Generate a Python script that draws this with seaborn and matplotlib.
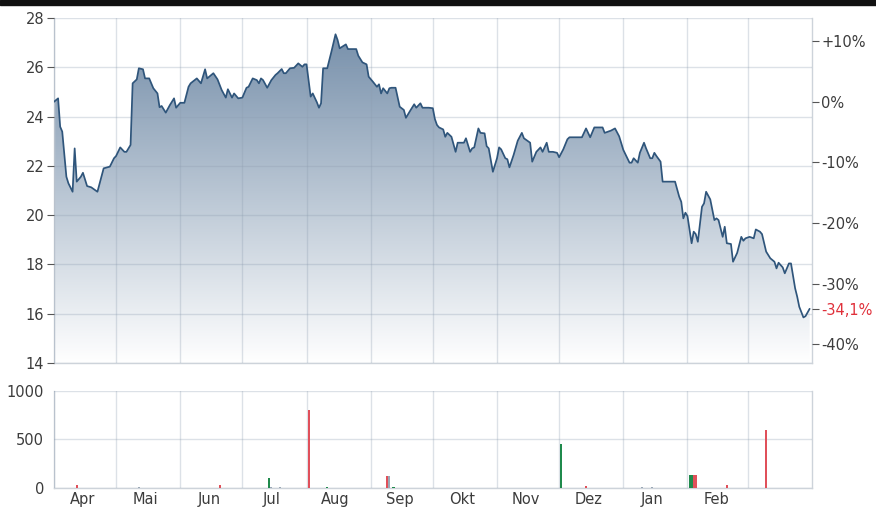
import numpy as np
import pandas as pd
import seaborn as sns
import matplotlib.pyplot as plt
import matplotlib.dates as mdates
from matplotlib.colors import LinearSegmentedColormap
from matplotlib.patches import Rectangle

# data (day offsets from 1 Apr 2023)
start = pd.Timestamp("2023-04-01")
price_days = [0, 2, 3, 4, 6, 7, 9, 10, 11, 13, 14, 16, 18, 21, 24, 27, 29, 30, 32, 34,
              35, 37, 38, 40, 41, 43, 44, 46, 48, 50, 51, 52, 54, 56, 58, 59, 61, 63, 65, 66,
              69, 71, 73, 74, 77, 79, 81, 83, 84, 86, 87, 89, 91, 93, 94, 96, 98, 99, 100, 101,
              103, 105, 107, 108, 110, 111, 112, 114, 116, 118, 120, 121, 122, 124, 125, 127, 128, 129, 130, 132,
              134, 136, 137, 138, 140, 141, 142, 144, 146, 147, 149, 151, 152, 154, 156, 157, 158, 159, 161, 162,
              163, 165, 167, 169, 170, 172, 174, 175, 177, 178, 181, 183, 184, 185, 186, 188, 189, 190, 192, 194,
              195, 198, 199, 201, 202, 203, 205, 206, 208, 209, 210, 212, 214, 215, 216, 218, 219, 220, 222, 224,
              226, 227, 230, 231, 233, 235, 236, 238, 239, 241, 243, 244, 246, 248, 249, 252, 255, 257, 258, 259,
              261, 263, 265, 266, 269, 271, 273, 275, 278, 279, 280, 282, 283, 285, 286, 288, 289, 290, 291, 293,
              294, 297, 300, 302, 303, 304, 305, 306, 308, 309, 310, 311, 313, 314, 315, 317, 319, 320, 321, 323,
              324, 325, 327, 328, 330, 332, 333, 334, 336, 338, 339, 341, 342, 344, 346, 348, 349, 350, 352, 353,
              355, 356, 358, 359, 360, 362, 363, 365]
price_values = [24.6, 24.74, 23.59, 23.39, 21.56, 21.29, 20.95, 22.71, 21.36, 21.56, 21.72, 21.18, 21.13, 20.95, 21.9, 21.97, 22.31, 22.4, 22.75, 22.57,
                22.57, 22.85, 25.35, 25.51, 25.96, 25.92, 25.55, 25.55, 25.15, 24.94, 24.38, 24.43, 24.16, 24.47, 24.74, 24.36, 24.56, 24.56, 25.21, 25.35,
                25.55, 25.35, 25.92, 25.55, 25.76, 25.51, 25.08, 24.77, 25.11, 24.77, 24.94, 24.74, 24.77, 25.17, 25.21, 25.55, 25.48, 25.35, 25.55, 25.48,
                25.17, 25.48, 25.69, 25.76, 25.93, 25.76, 25.76, 25.96, 25.98, 26.16, 26.02, 26.12, 26.12, 24.81, 24.94, 24.58, 24.36, 24.54, 25.96, 25.96,
                26.63, 27.34, 27.11, 26.77, 26.88, 26.93, 26.74, 26.74, 26.74, 26.47, 26.2, 26.12, 25.62, 25.42, 25.21, 25.31, 24.94, 25.15, 24.94, 25.15,
                25.17, 25.17, 24.4, 24.27, 23.95, 24.23, 24.5, 24.36, 24.54, 24.36, 24.36, 24.34, 23.9, 23.66, 23.56, 23.48, 23.18, 23.34, 23.18, 22.57,
                22.94, 22.94, 23.12, 22.57, 22.71, 22.75, 23.52, 23.34, 23.32, 22.8, 22.71, 21.76, 22.31, 22.75, 22.67, 22.31, 22.27, 21.94, 22.44, 23.02,
                23.34, 23.12, 22.94, 22.17, 22.57, 22.75, 22.57, 22.94, 22.57, 22.57, 22.53, 22.35, 22.67, 23.08, 23.16, 23.16, 23.16, 23.52, 23.34, 23.16,
                23.56, 23.56, 23.56, 23.34, 23.43, 23.52, 23.2, 22.65, 22.13, 22.13, 22.31, 22.13, 22.53, 22.94, 22.71, 22.31, 22.31, 22.53, 22.4, 22.17,
                21.36, 21.36, 21.36, 20.75, 20.54, 19.87, 20.1, 19.96, 18.86, 19.33, 19.23, 18.92, 20.34, 20.48, 20.95, 20.64, 19.8, 19.87, 19.8, 19.12,
                19.53, 18.86, 18.83, 18.11, 18.47, 19.12, 18.96, 19.06, 19.12, 19.06, 19.42, 19.33, 19.23, 18.52, 18.25, 18.11, 17.84, 18.07, 17.88, 17.64,
                18.04, 18.04, 17.03, 16.69, 16.28, 15.85, 15.9, 16.2]

vol_days = [11, 41, 80, 104, 105, 109, 123, 132, 161, 162, 164, 245, 257, 284, 289, 307, 308, 309, 310, 325, 344]
vol_values = [30, 6, 28, 100, 10, 10, 800, 15, 120, 120, 15, 450, 20, 10, 10, 135, 135, 135, 135, 30, 600]
vol_kind = ["down", "flat", "down", "up", "flat", "flat", "down", "up", "down", "flat", "up",
            "up", "down", "flat", "flat", "up", "up", "down", "down", "down", "down"]

month_labels = ["Apr", "Mai", "Jun", "Jul", "Aug", "Sep", "Okt", "Nov", "Dez", "Jan", "Feb", ""]
price_ticks = [14, 16, 18, 20, 22, 24, 26, 28]
pct_ticks = [10, 0, -10, -20, -30, -40]
base_price = 24.6

line_col = "#2f557b"
text_col = "#3c3c3c"
kind_col = {"up": "#1f8a4c", "down": "#e0505a", "flat": "#9aa8b6"}

sns.set_style("white")
plt.rcParams["font.family"] = ["DejaVu Sans"]
plt.rcParams["font.size"] = 10

dates = start + pd.to_timedelta(price_days, unit="D")
vdates = start + pd.to_timedelta(vol_days, unit="D")
df = pd.DataFrame({"date": dates, "price": price_values})

fig = plt.figure(figsize=(8.76, 5.12), dpi=100)
fig.patches.append(Rectangle((0, 0.99), 1, 0.01, transform=fig.transFigure, color="#111111"))
ax = fig.add_axes([0.0616, 0.291, 0.865, 0.6738])
axv = fig.add_axes([0.0616, 0.0469, 0.865, 0.1895])

x0 = mdates.date2num(pd.Timestamp("2023-04-01"))
x1 = mdates.date2num(pd.Timestamp("2024-04-01"))
month_starts = pd.date_range("2023-04-01", "2024-03-01", freq="MS")
mids = month_starts + pd.Timedelta(days=14)

# gradient fill under the price line
poly = ax.fill_between(mdates.date2num(dates), price_values, 14, color="none", lw=0)
cmap = LinearSegmentedColormap.from_list("fade", ["#ffffff", "#718ba7"])
grad = np.linspace(0, 1, 256).reshape(-1, 1)
im = ax.imshow(grad, cmap=cmap, aspect="auto", extent=[x0, x1, 14, 28], origin="lower", zorder=1)
im.set_clip_path(poly.get_paths()[0], transform=ax.transData)

sns.lineplot(data=df, x="date", y="price", ax=ax, color=line_col, linewidth=1.25, zorder=4)

for a in (ax, axv):
    a.set_xlim(x0, x1)
    a.set_xticks(mdates.date2num(month_starts))
    a.set_xticklabels([])
    a.grid(True, which="major", color="#8d9db0", alpha=0.3, lw=1, zorder=3)
    a.set_axisbelow(False)
    a.tick_params(axis="x", which="major", length=0)
    for s in ["left", "bottom", "right"]:
        a.spines[s].set_color("#cdd3da")
        a.spines[s].set_linewidth(1)
    a.spines["top"].set_visible(False)
    a.set_xlabel("")
    a.set_ylabel("")

ax.set_ylim(14, 28)
ax.set_yticks(price_ticks)
ax.tick_params(axis="y", length=5, color="#555555", labelcolor=text_col, labelsize=10.5, pad=2)

# percent axis on the right
ax2 = ax.twinx()
ax2.set_ylim((14 / base_price - 1) * 100, (28 / base_price - 1) * 100)
last_pct = (price_values[-1] / base_price - 1) * 100
ax2.set_yticks(pct_ticks + [last_pct])
labels = [("+%d%%" % t if t > 0 else "%d%%" % t) for t in pct_ticks]
labels.append(("%.1f%%" % last_pct).replace(".", ","))
ax2.set_yticklabels(labels)
ax2.tick_params(axis="y", length=5, color="#555555", labelcolor=text_col, labelsize=10.5, pad=2)
ax2.get_yticklabels()[-1].set_color("#e0303a")
for s in ax2.spines.values():
    s.set_visible(False)

# volume bars
axv.bar(mdates.date2num(vdates), vol_values, width=1.0, linewidth=0, edgecolor="none",
        color=[kind_col[k] for k in vol_kind], zorder=4)
axv.set_ylim(0, 1000)
axv.set_yticks([0, 500, 1000])
axv.tick_params(axis="y", length=5, color="#555555", labelcolor=text_col, labelsize=10.5, pad=2)
axv.set_xticks(mdates.date2num(mids), minor=True)
axv.set_xticklabels(month_labels, minor=True)
axv.tick_params(axis="x", which="minor", length=0, labelcolor=text_col, labelsize=10.5, pad=3)

fig.savefig("out.png", dpi=100)
